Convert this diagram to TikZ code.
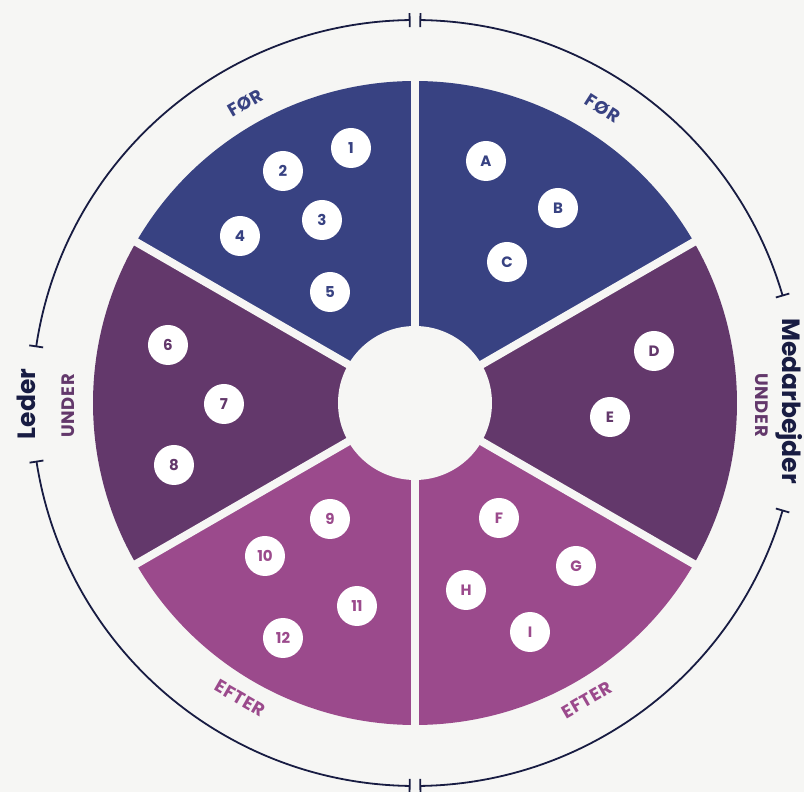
\documentclass[tikz,border=0pt]{standalone}
\usepackage{fontspec}
\setmainfont{Poppins}
\definecolor{bgc}{RGB}{246,246,244}
\definecolor{forc}{RGB}{56,66,130}
\definecolor{underc}{RGB}{99,56,107}
\definecolor{efterc}{RGB}{155,74,140}
\definecolor{navy}{RGB}{24,28,66}
\begin{document}
\begin{tikzpicture}[x=1pt,y=1pt,
  numc/.style={circle,fill=white,minimum size=40pt,inner sep=0pt,font=\fontsize{15}{15}\selectfont\bfseries},
  phase/.style={font=\fontsize{18}{18}\selectfont\bfseries\addfontfeature{LetterSpace=4}},
  role/.style={font=\fontsize{25}{25}\selectfont\bfseries,text=navy},
  ring/.style={draw=navy,line width=1.8pt},
  sep/.style={draw=bgc,line width=8pt}]
\fill[bgc] (-415,-389) rectangle (389,403);
\useasboundingbox (-415,-389) rectangle (389,403);
% sectors
\fill[forc] (0,0) -- (90:322) arc[start angle=90,end angle=30,radius=322] -- cycle;
\fill[underc] (0,0) -- (30:322) arc[start angle=30,end angle=-30,radius=322] -- cycle;
\fill[efterc] (0,0) -- (-30:322) arc[start angle=-30,end angle=-90,radius=322] -- cycle;
\fill[efterc] (0,0) -- (-90:322) arc[start angle=-90,end angle=-150,radius=322] -- cycle;
\fill[underc] (0,0) -- (210:322) arc[start angle=210,end angle=150,radius=322] -- cycle;
\fill[forc] (0,0) -- (150:322) arc[start angle=150,end angle=90,radius=322] -- cycle;
\foreach \a in {90,30,-30,-90,-150,150}{\draw[sep] (0,0) -- (\a:330);}
\fill[bgc] (0,0) circle (77);
% outer ring
\draw[ring] (89.2:383) arc[start angle=89.2,end angle=16.3,radius=383];
\draw[ring] (-16.3:383) arc[start angle=-16.3,end angle=-89.2,radius=383];
\draw[ring] (-90.8:383) arc[start angle=-90.8,end angle=-171.2,radius=383];
\draw[ring] (171.5:383) arc[start angle=171.5,end angle=90.8,radius=383];
\foreach \a in {89.2,16.3,-16.3,-89.2,-90.8,-171.2,171.5,90.8}{\draw[ring] (\a:376) -- (\a:390);}
% role labels
\node[role,rotate=90] (leder) at (-389,-1) {Leder};
\node[role,rotate=-90] (medarb) at (374,2) {Medarbejder};
% phase labels
\node[phase,text=forc,rotate=30] (forL) at (-170,300) {FØR};
\node[phase,text=forc,rotate=-32.5] (forR) at (188,295) {FØR};
\node[phase,text=underc,rotate=90] (underL) at (-347,-3) {UNDER};
\node[phase,text=underc,rotate=-90] (underR) at (347,-2) {UNDER};
\node[phase,text=efterc,rotate=-30] (efterL) at (-175,-295) {EFTER};
\node[phase,text=efterc,rotate=30] (efterR) at (172,-297) {EFTER};
% numbered circles
\node[numc,text=forc] (n1) at (-64,255) {1};
\node[numc,text=forc] (n2) at (-132,232) {2};
\node[numc,text=forc] (n3) at (-93,183) {3};
\node[numc,text=forc] (n4) at (-175,167) {4};
\node[numc,text=forc] (n5) at (-85,111) {5};
\node[numc,text=forc] (nA) at (71,242) {A};
\node[numc,text=forc] (nB) at (143,195) {B};
\node[numc,text=forc] (nC) at (92,141) {C};
\node[numc,text=underc] (n6) at (-247,58) {6};
\node[numc,text=underc] (n7) at (-191,-1) {7};
\node[numc,text=underc] (n8) at (-241,-62) {8};
\node[numc,text=underc] (nD) at (239,52) {D};
\node[numc,text=underc] (nE) at (195,-14) {E};
\node[numc,text=efterc] (n9) at (-85,-116) {9};
\node[numc,text=efterc] (n10) at (-150,-153) {10};
\node[numc,text=efterc] (n11) at (-58,-203) {11};
\node[numc,text=efterc] (n12) at (-132,-235) {12};
\node[numc,text=efterc] (nF) at (84,-115) {F};
\node[numc,text=efterc] (nG) at (161,-163) {G};
\node[numc,text=efterc] (nH) at (51,-187) {H};
\node[numc,text=efterc] (nI) at (115,-229) {I};
\end{tikzpicture}
\end{document}
